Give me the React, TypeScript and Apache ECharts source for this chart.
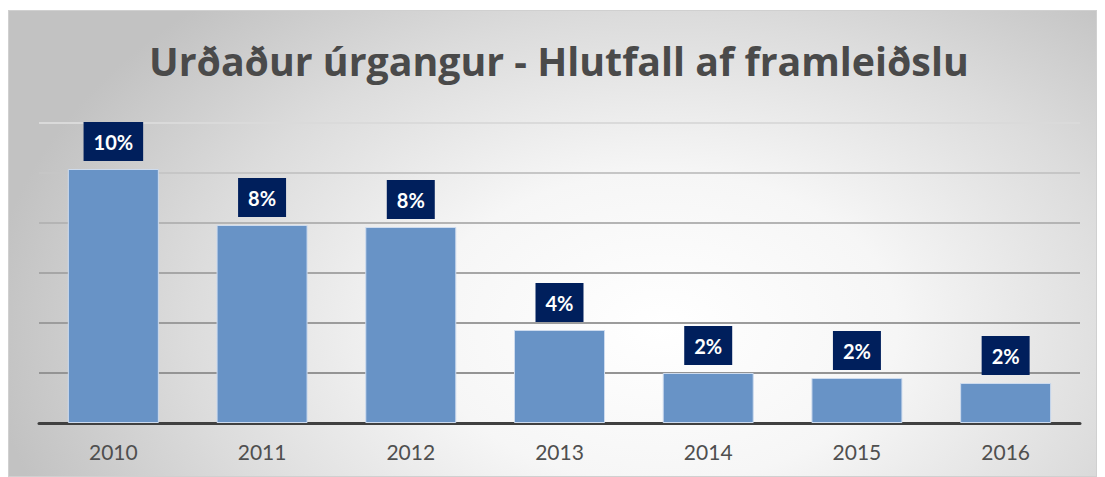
import React, { useEffect, useRef } from "react";
import * as echarts from "echarts";

const title = "Urðaður úrgangur - Hlutfall af framleiðslu";
const categories = ["2010", "2011", "2012", "2013", "2014", "2015", "2016"];
const values = [10.16, 7.92, 7.84, 3.72, 2.0, 1.8, 1.6];
const valueLabels = ["10%", "8%", "8%", "4%", "2%", "2%", "2%"];
const axisMax = 12;
const axisInterval = 2;

export default function App() {
  const ref = useRef<HTMLDivElement>(null);
  useEffect(() => {
    if (!ref.current) return;
    const chart = echarts.init(ref.current, null, { renderer: "svg" });
    chart.setOption({
      animation: false,
      backgroundColor: "transparent",
      title: {
        text: title,
        left: 135,
        top: 25,
        textStyle: {
          fontFamily: "Open Sans",
          fontWeight: "bold",
          fontSize: 39.3,
          color: "#4a4a4a",
        },
      },
      grid: { left: 30, right: 16, top: 112, bottom: 53 },
      xAxis: {
        type: "category",
        data: categories,
        axisTick: { show: false },
        axisLine: { lineStyle: { color: "#404040", width: 3 } },
        axisLabel: {
          fontFamily: "Lato",
          fontSize: 21,
          color: "#4f4f4f",
          margin: 18,
        },
      },
      yAxis: {
        type: "value",
        min: 0,
        max: axisMax,
        interval: axisInterval,
        axisLabel: { show: false },
        axisLine: { show: false },
        axisTick: { show: false },
        splitLine: {
          lineStyle: {
            color: ["#909090", "#949494", "#9c9c9c", "#a6a6a6", "#b4b4b4", "#c6c6c6", "#dadada"],
            width: 2,
          },
        },
      },
      series: [
        {
          type: "bar",
          data: values,
          barWidth: 91,
          itemStyle: { color: "#6893c6", borderColor: "#cddbee", borderWidth: 1 },
          label: {
            show: true,
            position: "top",
            distance: 8,
            formatter: (p: any) => valueLabels[p.dataIndex],
            backgroundColor: "#001f5c",
            color: "#ffffff",
            fontFamily: "Lato",
            fontWeight: "bold",
            fontSize: 20,
            padding: [10, 10, 9, 10],
          },
        },
      ],
    });
    return () => chart.dispose();
  }, []);
  return (
    <div style={{ paddingTop: 2 }}>
      <div
        ref={ref}
        style={{
          width: 1089,
          height: 467,
          border: "1px solid #d0d0d0",
          boxSizing: "border-box",
          background:
            "radial-gradient(ellipse 62% 95% at 60% 68%, #ffffff 0%, #f6f6f6 35%, #dcdcdc 70%, #c2c2c2 100%)",
        }}
      />
    </div>
  );
}
